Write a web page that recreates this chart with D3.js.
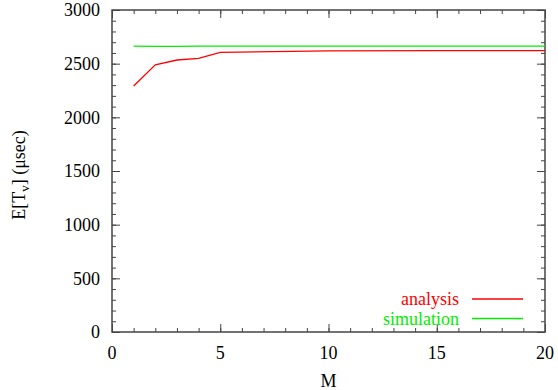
<!DOCTYPE html>
<html>
<head>
<meta charset="utf-8">
<script src="https://cdn.jsdelivr.net/npm/d3@7"></script>
<style>
  body { margin: 0; background: #fff; }
  .axis path, .axis line { stroke: #444; }
</style>
</head>
<body>
<div id="chart"></div>
<script>
// data
var mValues = [1, 2, 3, 4, 5, 10, 15, 20];
var analysis = [2292, 2490, 2534, 2550, 2606, 2620, 2621, 2621];
var simulation = [2663, 2661, 2662, 2663, 2663, 2664, 2664, 2664];
var xTicks = [0, 5, 10, 15, 20];
var yTicks = [0, 500, 1000, 1500, 2000, 2500, 3000];

var serif = "'Liberation Serif', 'Times New Roman', 'DejaVu Serif', serif";
var fs = 18;
var width = 558, height = 390;
var margin = {top: 10, right: 13, bottom: 58, left: 112};
var w = width - margin.left - margin.right;
var h = height - margin.top - margin.bottom;

var svg = d3.select("#chart").append("svg")
    .attr("width", width)
    .attr("height", height)
    .attr("font-family", serif);

var g = svg.append("g")
    .attr("transform", "translate(" + margin.left + "," + margin.top + ")");

var x = d3.scaleLinear().domain([0, 20]).range([0, w]);
var y = d3.scaleLinear().domain([0, 3000]).range([h, 0]);

var minorX = d3.range(0, 21, 1);
var minorY = d3.range(0, 3001, 100);

// minor + major ticks on all four sides, pointing inward
function tickMarks(axisFn, scale, values, size, transform) {
    g.append("g")
        .attr("class", "axis")
        .attr("transform", transform)
        .call(axisFn(scale).tickValues(values).tickSize(size).tickFormat(""))
        .call(function (s) { s.select(".domain").remove(); });
}
tickMarks(d3.axisBottom, x, minorX, -4, "translate(0," + h + ")");
tickMarks(d3.axisBottom, x, xTicks, -8, "translate(0," + h + ")");
tickMarks(d3.axisTop, x, minorX, -4, "translate(0,0)");
tickMarks(d3.axisTop, x, xTicks, -8, "translate(0,0)");
tickMarks(d3.axisLeft, y, minorY, -4, "translate(0,0)");
tickMarks(d3.axisLeft, y, yTicks, -8, "translate(0,0)");
tickMarks(d3.axisRight, y, minorY, -4, "translate(" + w + ",0)");
tickMarks(d3.axisRight, y, yTicks, -8, "translate(" + w + ",0)");

// frame
g.append("rect")
    .attr("width", w)
    .attr("height", h)
    .attr("fill", "none")
    .attr("stroke", "#444")
    .attr("stroke-width", 1.5);

// tick labels
g.selectAll(".xlab").data(xTicks).enter().append("text")
    .attr("font-family", serif)
    .attr("x", function (d) { return x(d); })
    .attr("y", h + 27)
    .attr("text-anchor", "middle")
    .attr("font-size", fs)
    .text(function (d) { return d; });

g.selectAll(".ylab").data(yTicks).enter().append("text")
    .attr("font-family", serif)
    .attr("x", -12)
    .attr("y", function (d) { return y(d); })
    .attr("dy", "0.35em")
    .attr("text-anchor", "end")
    .attr("font-size", fs)
    .text(function (d) { return d; });

// axis titles
g.append("text")
    .attr("font-family", serif)
    .attr("x", w / 2)
    .attr("y", h + 55)
    .attr("text-anchor", "middle")
    .attr("font-size", fs)
    .text("M");

var yTitle = svg.append("text")
    .attr("font-family", serif)
    .attr("transform", "translate(25," + (margin.top + h / 2 + 4) + ") rotate(-90)")
    .attr("text-anchor", "middle")
    .attr("font-size", fs);
yTitle.append("tspan").text("E[T");
yTitle.append("tspan").attr("font-size", 13).attr("dy", 4).text("v");
yTitle.append("tspan").attr("dy", -4).text("] (μsec)");

// lines
var line = d3.line()
    .x(function (d, i) { return x(mValues[i]); })
    .y(function (d) { return y(d); });

var series = [
    {name: "analysis", values: analysis, color: "#ff0000"},
    {name: "simulation", values: simulation, color: "#00ee00"}
];

series.forEach(function (s, i) {
    g.append("path")
        .datum(s.values)
        .attr("fill", "none")
        .attr("stroke", s.color)
        .attr("stroke-width", 1.3)
        .attr("d", line);

    var ly = 299 + i * 19.5 - margin.top;
    g.append("text")
        .attr("font-family", serif)
        .attr("x", 459 - margin.left)
        .attr("y", ly)
        .attr("dy", "0.35em")
        .attr("text-anchor", "end")
        .attr("font-size", fs)
        .attr("fill", s.color)
        .text(s.name);
    g.append("line")
        .attr("x1", 472 - margin.left)
        .attr("x2", 523 - margin.left)
        .attr("y1", ly)
        .attr("y2", ly)
        .attr("stroke", s.color)
        .attr("stroke-width", 1.3);
});
</script>
</body>
</html>
